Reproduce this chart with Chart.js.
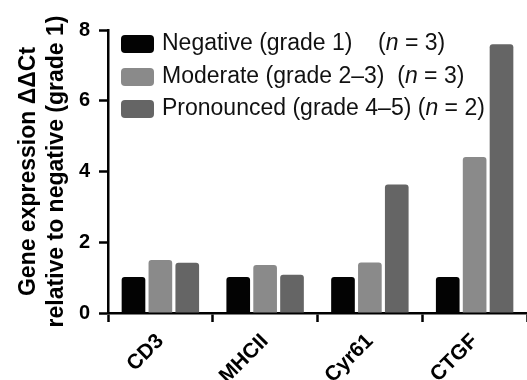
<!DOCTYPE html>
<html lang="en">
<head>
  <meta charset="UTF-8">
  <title>Gene expression</title>
  <script src="https://cdn.jsdelivr.net/npm/chart.js"></script>
  <style>
    html, body { margin: 0; padding: 0; background: #fff; }
    #wrap { width: 527px; height: 380px; }
  </style>
</head>
<body>
  <div id="wrap"><canvas id="grafico" width="527" height="380"></canvas></div>

  <script>
    // data
    const genes = ['CD3', 'MHCII', 'Cyr61', 'CTGF'];
    const negative = [1.02, 1.02, 1.02, 1.02];
    const moderate = [1.50, 1.36, 1.43, 4.41];
    const pronounced = [1.42, 1.08, 3.63, 7.60];

    const seriesNames = ['Negative (grade 1)    ', 'Moderate (grade 2\u20133)  ', 'Pronounced (grade 4\u20135) '];
    const seriesN = [3, 3, 2];
    const seriesColors = ['#030303', '#8a8a8a', '#656565'];
    const yTicks = [0, 2, 4, 6, 8];

    const FONT = 'Arial, "Liberation Sans", sans-serif';

    // legend with italic n, drawn on the canvas
    const legendaPlugin = {
      id: 'legenda',
      afterDraw(chart) {
        const c = chart.ctx;
        c.save();
        c.textBaseline = 'middle';
        const rows = [44, 77, 109];
        seriesNames.forEach((nome, i) => {
          const y = rows[i];
          c.fillStyle = seriesColors[i];
          c.beginPath();
          c.roundRect(121, y - 9, 33, 18, 4);
          c.fill();
          c.fillStyle = '#111';
          let x = 162;
          c.font = '23px ' + FONT;
          c.fillText(nome + '(', x, y);
          x += c.measureText(nome + '(').width;
          c.font = 'italic 23px ' + FONT;
          c.fillText('n', x, y);
          x += c.measureText('n').width;
          c.font = '23px ' + FONT;
          c.fillText(' = ' + seriesN[i] + ')', x, y);
        });
        c.restore();
      }
    };

    const ctx = document.getElementById('grafico').getContext('2d');
    const chart = new Chart(ctx, {
      type: 'bar',
      data: {
        labels: genes,
        datasets: [
          { label: seriesNames[0], data: negative, backgroundColor: seriesColors[0] },
          { label: seriesNames[1], data: moderate, backgroundColor: seriesColors[1] },
          { label: seriesNames[2], data: pronounced, backgroundColor: seriesColors[2] }
        ]
      },
      options: {
        responsive: false,
        animation: false,
        layout: { padding: { top: 30, left: 0, right: 0, bottom: 0 } },
        datasets: {
          bar: {
            categoryPercentage: 0.77,
            barPercentage: 0.88,
            borderRadius: { topLeft: 3, topRight: 3 },
            borderSkipped: 'bottom'
          }
        },
        plugins: {
          legend: { display: false },
          tooltip: { enabled: false }
        },
        scales: {
          x: {
            grid: { drawOnChartArea: false, drawTicks: true, tickLength: 9, tickWidth: 2.5, color: '#000' },
            border: { display: true, color: '#000', width: 2.5 },
            ticks: {
              color: '#000',
              font: { family: FONT, size: 21, weight: 'bold' },
              minRotation: 45,
              maxRotation: 45,
              padding: 7
            },
            afterFit(scale) { scale.height = 67; }
          },
          y: {
            min: 0,
            max: 8,
            afterBuildTicks(scale) { scale.ticks = yTicks.map(v => ({ value: v })); },
            grid: { drawOnChartArea: false, drawTicks: true, tickLength: 9, tickWidth: 2.5, color: '#000' },
            border: { display: true, color: '#000', width: 2.5 },
            ticks: {
              color: '#000',
              font: { family: FONT, size: 20, weight: 'bold' },
              padding: 9
            },
            title: {
              display: true,
              text: ['Gene expression \u0394\u0394Ct', 'relative to negative (grade 1)'],
              color: '#000',
              font: { family: FONT, size: 23, weight: 'bold', lineHeight: 1.25 },
              padding: { top: 14, bottom: 0 }
            },
            afterFit(scale) { scale.width = 108; }
          }
        }
      },
      plugins: [legendaPlugin]
    });
  </script>
</body>
</html>
